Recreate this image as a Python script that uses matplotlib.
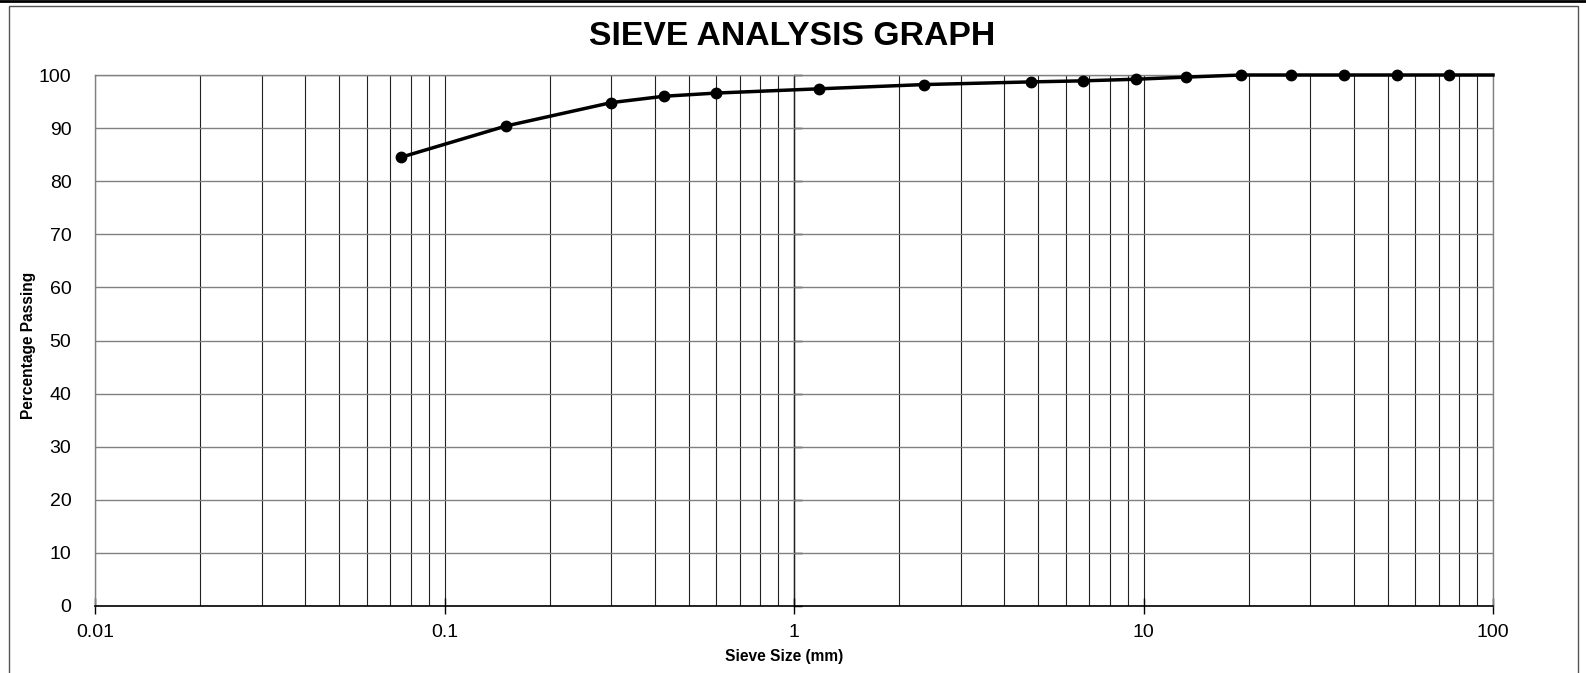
import matplotlib
matplotlib.use("Agg")
import matplotlib.pyplot as plt
from matplotlib.ticker import LogLocator, FixedLocator, NullFormatter, FuncFormatter
from matplotlib.patches import Rectangle
from matplotlib.lines import Line2D

plt.rcParams['font.family'] = ['Liberation Sans', 'DejaVu Sans']

# Sieve sizes (mm) and cumulative percentage passing
sieve_mm = [0.075, 0.15, 0.3, 0.425, 0.6, 1.18, 2.36, 4.75, 6.7, 9.5, 13.2,
            19.0, 26.5, 37.5, 53.0, 75.0, 100.0]
passing = [84.5, 90.4, 94.8, 96.0, 96.6, 97.4, 98.2, 98.7, 98.9, 99.2, 99.6,
           100.0, 100.0, 100.0, 100.0, 100.0, 100.0]
n_marked = 16  # the 100 mm entry only extends the line to the axis edge

x_ticks = [0.01, 0.1, 1, 10, 100]
x_ticklabels = ['0.01', '0.1', '1', '10', '100']
y_ticks = list(range(0, 101, 10))

W, H = 1586, 673
fig = plt.figure(figsize=(W / 100, H / 100), dpi=100)

# Outer chart frame
fig.add_artist(Rectangle((9 / W, -0.05), (1578 - 9) / W, 1.05 - 6 / H,
                         transform=fig.transFigure, fill=False,
                         edgecolor='#555555', lw=1.0))
fig.add_artist(Line2D([0, 1], [1 - 1 / H, 1 - 1 / H], transform=fig.transFigure,
                      color='black', lw=2.0))

ax = fig.add_axes([95 / W, 1 - 606 / H, (1493 - 95) / W, (606 - 75) / H])
ax.set_xscale('log')
ax.set_xlim(0.01, 100)
ax.set_ylim(0, 100)

ax.xaxis.set_major_locator(FixedLocator(x_ticks))
ax.xaxis.set_major_formatter(FuncFormatter(lambda v, p: x_ticklabels[x_ticks.index(v)] if v in x_ticks else ''))
ax.xaxis.set_minor_locator(LogLocator(base=10, subs=range(2, 10), numticks=20))
ax.xaxis.set_minor_formatter(NullFormatter())
ax.set_yticks(y_ticks)

# Grid: grey horizontal lines, dark vertical lines (major and minor)
ax.grid(axis='y', which='major', color='#808080', lw=1.0)
ax.grid(axis='x', which='major', color='#222222', lw=0.8)
ax.grid(axis='x', which='minor', color='#222222', lw=0.8)
ax.set_axisbelow(True)

for side in ('left', 'top', 'right'):
    ax.spines[side].set_color('#808080')
    ax.spines[side].set_linewidth(1.0)
ax.spines['bottom'].set_color('black')
ax.spines['bottom'].set_linewidth(1.2)

ax.tick_params(axis='x', which='major', direction='inout', length=12, width=1,
               labelsize=14, pad=7, color='black')
ax.tick_params(axis='x', which='minor', length=0)
ax.tick_params(axis='y', which='major', length=0, labelsize=14, pad=17)

# Vertical axis crossing at 1 mm with small outward ticks
sec = ax.secondary_yaxis(0.5)
sec.set_yticks(y_ticks)
sec.spines['right'].set_color('black')
sec.spines['right'].set_linewidth(1.0)
sec.tick_params(axis='y', direction='out', length=6, width=1, color='black',
                labelright=False, labelleft=False)

ax.plot(sieve_mm, passing, color='black', lw=2.5, marker='o', markersize=7.5,
        markevery=list(range(n_marked)), clip_on=False, zorder=5)

fig.text(792 / W, 1 - 45 / H, 'SIEVE ANALYSIS GRAPH', ha='center', va='baseline',
         fontsize=24.3, fontweight='bold')
fig.text(784 / W, 1 - 657 / H, 'Sieve Size (mm)', ha='center', va='center',
         fontsize=11.2, fontweight='bold')
fig.text(28 / W, 1 - 345 / H, 'Percentage Passing', ha='center', va='center',
         rotation=90, fontsize=11.2, fontweight='bold')

fig.savefig('out.png', dpi=100)
